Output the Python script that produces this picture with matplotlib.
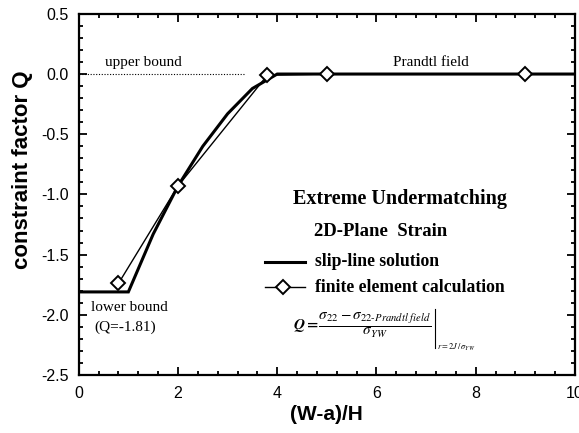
import numpy as np
import matplotlib
matplotlib.use("Agg")
import matplotlib.pyplot as plt
from matplotlib.ticker import MultipleLocator, FormatStrFormatter

# slip-line solution
slip_x = [0.0, 1.0, 1.5, 2.0, 2.5, 3.0, 3.5, 4.0, 10.0]
slip_q = [-1.81, -1.81, -1.33, -0.93, -0.60, -0.33, -0.12, 0.0, 0.0]

# finite element calculation
fe_x = [0.8, 2.0, 3.8, 5.0, 9.0]
fe_q = [-1.74, -0.93, -0.01, 0.0, 0.0]

# upper bound dotted line
ub_x = [0.0, 3.35]
ub_q = [0.0, 0.0]

plt.rcParams["mathtext.fontset"] = "stix"
serif = "Liberation Serif"
sans = "Liberation Sans"

fig = plt.figure(figsize=(5.79, 4.33), dpi=100)
ax = fig.add_axes([0.136, 0.134, 0.857, 0.834])

ax.plot(slip_x, slip_q, color="black", lw=2.2, solid_joinstyle="miter")
ax.plot(fe_x, fe_q, color="black", lw=1.0, marker="D", ms=7,
        mfc="white", mec="black", mew=1.4)
ax.plot(ub_x, ub_q, color="black", lw=0.8, ls=(0, (1, 1.5)))

ax.set_xlim(0, 10)
ax.set_ylim(-2.5, 0.5)
ax.xaxis.set_major_locator(MultipleLocator(2))
ax.xaxis.set_minor_locator(MultipleLocator(0.4))
ax.yaxis.set_major_locator(MultipleLocator(0.5))
ax.yaxis.set_minor_locator(MultipleLocator(0.1))
ax.xaxis.set_major_formatter(FormatStrFormatter("%g"))
ax.yaxis.set_major_formatter(FormatStrFormatter("%.1f"))
ax.tick_params(which="both", direction="in", top=True, right=True, width=1.3)
ax.tick_params(which="major", length=6, labelsize=11.5)
ax.tick_params(axis="x", which="major", pad=8)
ax.tick_params(axis="y", which="major", pad=7)
ax.tick_params(which="minor", length=3)
for lab in ax.get_xticklabels() + ax.get_yticklabels():
    lab.set_family(sans)
for s in ax.spines.values():
    s.set_linewidth(1.6)

ax.set_xlabel("(W-a)/H", family=sans, fontsize=15, fontweight="bold", labelpad=3)
ax.set_ylabel("constraint factor Q", family=sans, fontsize=16, fontweight="bold")
ax.yaxis.set_label_coords(-0.093, 0.569)

ax.text(0.53, 0.1, "upper bound", family=serif, fontsize=11, va="center")
ax.text(6.33, 0.1, "Prandtl field", family=serif, fontsize=11, va="center")
ax.text(0.24, -1.94, "lower bound", family=serif, fontsize=11, va="center")
ax.text(0.32, -2.10, "(Q=-1.81)", family=serif, fontsize=11, va="center")

ax.text(6.47, -1.04, "Extreme Undermatching", family=serif, fontsize=14.5,
        fontweight="bold", ha="center", va="center")
ax.text(6.09, -1.31, "2D-Plane  Strain", family=serif, fontsize=13.5,
        fontweight="bold", ha="center", va="center")

# legend drawn by hand in data coords
ax.plot([3.75, 4.56], [-1.56, -1.56], color="black", lw=2.2)
ax.text(4.76, -1.56, "slip-line solution", family=serif, fontsize=12.7,
        fontweight="bold", va="center")
ax.plot([3.75, 4.56], [-1.77, -1.77], color="black", lw=1.0)
ax.plot([4.11], [-1.77], marker="D", ms=7, mfc="white", mec="black", mew=1.4)
ax.text(4.76, -1.77, "finite element calculation", family=serif, fontsize=12.7,
        fontweight="bold", va="center")

ax.text(4.31, -2.09,
        r"$\boldsymbol{Q = \dfrac{\sigma_{22} - \sigma_{22\text{-}Prandtl\ field}}{\sigma_{YW}}}$",
        fontsize=11, va="center")
ax.plot([7.18, 7.18], [-1.95, -2.28], color="black", lw=0.8)
ax.text(7.22, -2.27, r"$r=2J\,/\,\sigma_{YW}$", fontsize=6, va="center")

fig.savefig("out.png", dpi=100)
